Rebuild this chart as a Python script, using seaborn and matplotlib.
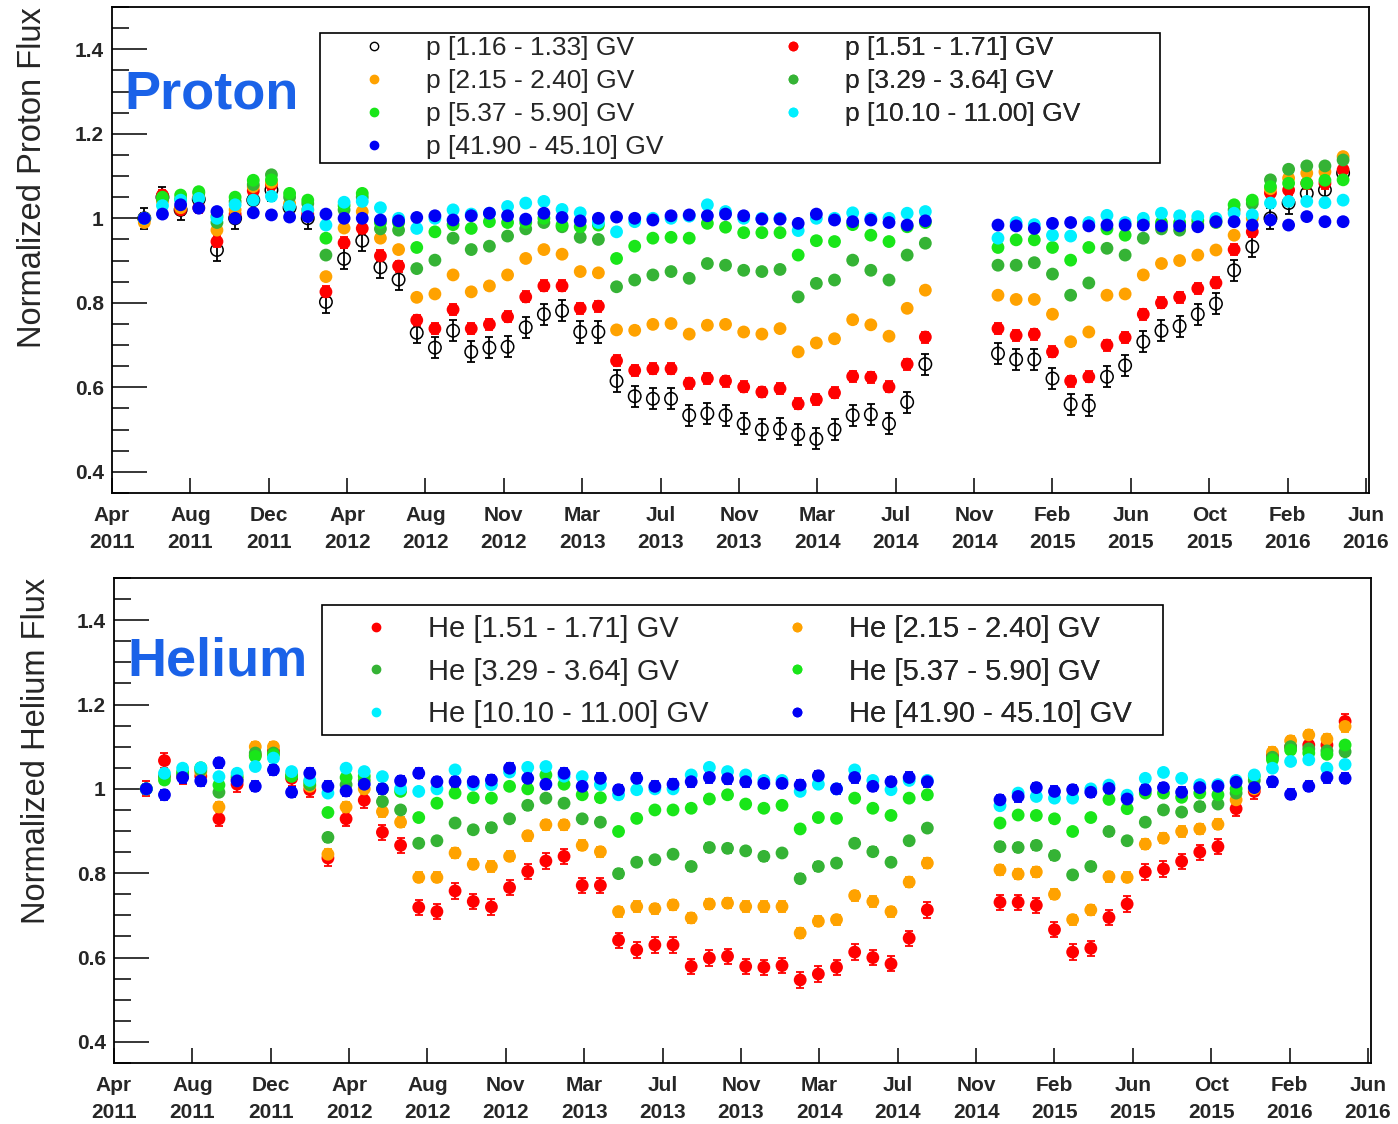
import numpy as np
import pandas as pd
import matplotlib
matplotlib.use("Agg")
import matplotlib.pyplot as plt
import matplotlib.dates as mdates
from matplotlib.lines import Line2D
from matplotlib.patches import Rectangle
from matplotlib.ticker import MultipleLocator
import seaborn as sns

# ---------------------------------------------------------------- time axis
# 27-day rotations carrying data (no data for rotations 44-46)
ROTATION = list(range(0, 44)) + list(range(47, 67))
FIRST_ROTATION = pd.Timestamp("2011-06-17")
ROTATION_DAYS = 27

AXIS_START = pd.Timestamp("2011-04-30")
AXIS_DAYS = 1868.5
TICK_STEP_DAYS = 116.5
TICK_LABELS = ["Apr\n2011", "Aug\n2011", "Dec\n2011", "Apr\n2012", "Aug\n2012",
               "Nov\n2012", "Mar\n2013", "Jul\n2013", "Nov\n2013", "Mar\n2014",
               "Jul\n2014", "Nov\n2014", "Feb\n2015", "Jun\n2015", "Oct\n2015",
               "Feb\n2016", "Jun\n2016"]
Y_MAJOR = [0.4, 0.6, 0.8, 1.0, 1.2, 1.4]

# ---------------------------------------------------------------- protons
PROTON_BANDS = ["p [1.16 - 1.33] GV", "p [1.51 - 1.71] GV", "p [2.15 - 2.40] GV",
                "p [3.29 - 3.64] GV", "p [5.37 - 5.90] GV", "p [10.10 - 11.00] GV",
                "p [41.90 - 45.10] GV"]
PROTON_COLORS = ["black", "#ff0000", "#ffa200", "#35b335", "#19e619", "#00f0ff", "#0000f5"]
PROTON_ERR = [0.025, 0.013, 0.009, 0.008, 0.007, 0.007, 0.008]

P_116 = [1.000, 1.050, 1.020, 1.045, 0.925, 1.000, 1.043, 1.067, 1.025, 1.000,
         0.802, 0.904, 0.947, 0.884, 0.855, 0.729, 0.694, 0.734, 0.684, 0.694,
         0.696, 0.742, 0.773, 0.781, 0.731, 0.731, 0.615, 0.579, 0.573, 0.573,
         0.534, 0.538, 0.534, 0.514, 0.500, 0.502, 0.489, 0.478, 0.500, 0.534,
         0.536, 0.514, 0.565, 0.655,
         0.680, 0.666, 0.666, 0.621, 0.560, 0.557, 0.625, 0.652, 0.708, 0.734,
         0.745, 0.773, 0.798, 0.877, 0.933, 1.000, 1.036, 1.059, 1.067, 1.107]
P_151 = [1.000, 1.055, 1.020, 1.025, 0.945, 1.010, 1.065, 1.080, 1.030, 1.010,
         0.826, 0.942, 0.976, 0.911, 0.887, 0.759, 0.739, 0.784, 0.739, 0.749,
         0.767, 0.814, 0.840, 0.840, 0.787, 0.792, 0.663, 0.640, 0.644, 0.644,
         0.610, 0.621, 0.615, 0.601, 0.589, 0.597, 0.561, 0.571, 0.587, 0.626,
         0.624, 0.601, 0.655, 0.719,
         0.739, 0.723, 0.726, 0.684, 0.615, 0.625, 0.700, 0.718, 0.773, 0.800,
         0.813, 0.834, 0.847, 0.926, 0.968, 1.060, 1.067, 1.083, 1.083, 1.115]
P_215 = [0.990, 1.040, 1.025, 1.050, 0.972, 1.020, 1.075, 1.085, 1.035, 1.020,
         0.862, 0.977, 1.016, 0.953, 0.926, 0.813, 0.821, 0.866, 0.826, 0.840,
         0.866, 0.905, 0.926, 0.915, 0.874, 0.871, 0.736, 0.735, 0.749, 0.751,
         0.726, 0.747, 0.749, 0.731, 0.726, 0.739, 0.684, 0.705, 0.715, 0.760,
         0.748, 0.721, 0.787, 0.830,
         0.818, 0.808, 0.808, 0.773, 0.708, 0.731, 0.818, 0.821, 0.866, 0.893,
         0.900, 0.913, 0.925, 0.960, 1.000, 1.070, 1.095, 1.107, 1.110, 1.146]
P_329 = [1.000, 1.045, 1.045, 1.060, 0.990, 1.040, 1.080, 1.103, 1.050, 1.035,
         0.913, 1.020, 1.050, 0.975, 0.972, 0.881, 0.901, 0.953, 0.926, 0.934,
         0.958, 0.975, 0.990, 0.980, 0.955, 0.950, 0.838, 0.854, 0.866, 0.874,
         0.858, 0.893, 0.889, 0.877, 0.874, 0.879, 0.814, 0.846, 0.854, 0.901,
         0.877, 0.854, 0.913, 0.941,
         0.889, 0.889, 0.895, 0.868, 0.818, 0.847, 0.929, 0.913, 0.953, 0.975,
         0.972, 0.985, 0.990, 1.020, 1.035, 1.091, 1.116, 1.124, 1.124, 1.138]
P_537 = [1.000, 1.050, 1.055, 1.063, 1.005, 1.050, 1.090, 1.091, 1.059, 1.043,
         0.953, 1.030, 1.059, 0.990, 0.990, 0.931, 0.968, 0.985, 0.976, 0.992,
         0.990, 0.990, 1.000, 0.984, 0.980, 0.984, 0.905, 0.934, 0.953, 0.955,
         0.953, 0.988, 0.979, 0.966, 0.966, 0.966, 0.913, 0.947, 0.945, 0.985,
         0.960, 0.945, 0.980, 0.990,
         0.931, 0.949, 0.949, 0.931, 0.901, 0.931, 0.975, 0.960, 0.990, 0.990,
         0.990, 0.995, 0.995, 1.032, 1.043, 1.075, 1.083, 1.083, 1.090, 1.091]
P_1010 = [1.000, 1.030, 1.043, 1.047, 1.000, 1.032, 1.043, 1.052, 1.028, 1.020,
          0.984, 1.038, 1.040, 1.025, 1.000, 0.976, 1.000, 1.020, 1.010, 1.012,
          1.028, 1.036, 1.040, 1.021, 1.013, 0.990, 0.968, 0.992, 1.000, 1.000,
          1.005, 1.032, 1.016, 1.000, 1.000, 1.000, 0.971, 1.000, 1.000, 1.013,
          1.000, 1.000, 1.012, 1.016,
          0.953, 0.990, 0.985, 0.960, 0.958, 0.990, 1.007, 0.990, 1.000, 1.012,
          1.006, 1.004, 1.000, 1.012, 1.008, 1.036, 1.040, 1.040, 1.037, 1.043]
P_4190 = [1.000, 1.010, 1.032, 1.024, 1.016, 1.000, 1.013, 1.008, 1.003, 1.004,
          1.010, 1.000, 1.000, 0.996, 0.994, 1.002, 1.006, 0.996, 1.006, 1.012,
          1.006, 0.998, 1.012, 1.002, 0.994, 1.000, 1.003, 1.000, 0.996, 1.006,
          1.008, 1.006, 1.010, 1.006, 0.998, 0.998, 0.988, 1.010, 0.996, 0.992,
          0.996, 0.990, 0.984, 0.994,
          0.984, 0.982, 0.976, 0.988, 0.990, 0.982, 0.984, 0.984, 0.984, 0.982,
          0.982, 0.980, 0.992, 0.992, 0.984, 0.996, 0.984, 1.004, 0.992, 0.992]

# ---------------------------------------------------------------- helium
HELIUM_BANDS = ["He [1.51 - 1.71] GV", "He [2.15 - 2.40] GV", "He [3.29 - 3.64] GV",
                "He [5.37 - 5.90] GV", "He [10.10 - 11.00] GV", "He [41.90 - 45.10] GV"]
HELIUM_COLORS = ["#ff0000", "#ffa200", "#35b335", "#19e619", "#00f0ff", "#0000f5"]
HELIUM_ERR = [0.018, 0.012, 0.010, 0.009, 0.009, 0.012]

HE_151 = [1.000, 1.067, 1.030, 1.030, 0.929, 1.011, 1.080, 1.090, 1.025, 0.998,
          0.836, 0.929, 0.973, 0.897, 0.866, 0.719, 0.709, 0.758, 0.733, 0.720,
          0.766, 0.804, 0.829, 0.840, 0.771, 0.771, 0.641, 0.618, 0.630, 0.630,
          0.579, 0.599, 0.603, 0.579, 0.577, 0.581, 0.547, 0.561, 0.577, 0.613,
          0.600, 0.585, 0.646, 0.713,
          0.731, 0.731, 0.724, 0.666, 0.613, 0.622, 0.695, 0.727, 0.803, 0.810,
          0.828, 0.850, 0.863, 0.953, 0.994, 1.080, 1.100, 1.104, 1.104, 1.160]
HE_215 = [1.000, 1.030, 1.030, 1.040, 0.957, 1.020, 1.100, 1.100, 1.035, 1.006,
          0.845, 0.957, 1.000, 0.946, 0.921, 0.790, 0.790, 0.848, 0.821, 0.816,
          0.840, 0.889, 0.915, 0.915, 0.866, 0.851, 0.709, 0.721, 0.716, 0.725,
          0.694, 0.727, 0.729, 0.721, 0.721, 0.721, 0.658, 0.686, 0.690, 0.747,
          0.733, 0.709, 0.779, 0.824,
          0.808, 0.798, 0.803, 0.750, 0.690, 0.713, 0.792, 0.790, 0.869, 0.883,
          0.899, 0.905, 0.916, 0.974, 1.000, 1.087, 1.114, 1.128, 1.118, 1.148]
HE_329 = [1.000, 1.030, 1.035, 1.045, 0.992, 1.025, 1.085, 1.085, 1.030, 1.010,
          0.885, 1.010, 1.020, 0.970, 0.950, 0.871, 0.877, 0.919, 0.903, 0.908,
          0.929, 0.961, 0.978, 0.966, 0.929, 0.921, 0.799, 0.826, 0.832, 0.845,
          0.816, 0.861, 0.859, 0.853, 0.840, 0.848, 0.787, 0.816, 0.824, 0.871,
          0.851, 0.826, 0.877, 0.907,
          0.863, 0.861, 0.866, 0.842, 0.796, 0.816, 0.899, 0.877, 0.921, 0.950,
          0.945, 0.958, 0.964, 0.990, 1.020, 1.075, 1.100, 1.095, 1.090, 1.088]
HE_537 = [1.000, 1.021, 1.040, 1.050, 1.009, 1.030, 1.077, 1.081, 1.030, 1.017,
          0.944, 1.027, 1.030, 1.000, 0.994, 0.932, 0.966, 0.990, 0.979, 0.978,
          1.006, 1.000, 1.033, 1.011, 0.986, 0.979, 0.899, 0.930, 0.950, 0.950,
          0.954, 0.976, 0.986, 0.964, 0.954, 0.961, 0.905, 0.932, 0.930, 0.978,
          0.954, 0.937, 0.978, 0.986,
          0.919, 0.938, 0.937, 0.929, 0.899, 0.932, 0.975, 0.953, 0.990, 0.990,
          0.980, 0.990, 0.986, 1.000, 1.030, 1.069, 1.092, 1.085, 1.082, 1.104]
HE_1010 = [1.000, 1.037, 1.049, 1.050, 1.029, 1.037, 1.053, 1.073, 1.041, 1.020,
           0.990, 1.049, 1.041, 1.029, 1.000, 0.994, 1.000, 1.045, 1.010, 1.010,
           1.040, 1.051, 1.053, 1.030, 1.029, 1.010, 0.986, 0.998, 1.000, 1.000,
           1.033, 1.051, 1.041, 1.033, 1.020, 1.020, 0.994, 1.011, 1.000, 1.045,
           1.020, 0.998, 1.020, 1.020,
           0.960, 0.990, 0.982, 0.978, 0.978, 1.000, 1.009, 0.985, 1.025, 1.039,
           1.025, 1.010, 1.010, 1.020, 1.033, 1.049, 1.065, 1.069, 1.049, 1.058]
HE_4190 = [1.000, 0.986, 1.027, 1.019, 1.062, 1.019, 1.006, 1.045, 0.992, 1.037,
           1.006, 0.995, 1.011, 1.000, 1.019, 1.037, 1.017, 1.017, 1.017, 1.021,
           1.049, 1.025, 1.011, 1.037, 1.006, 1.025, 0.998, 1.025, 1.006, 1.011,
           1.017, 1.027, 1.024, 1.017, 1.013, 1.013, 1.009, 1.031, 1.000, 1.027,
           1.006, 1.017, 1.027, 1.017,
           0.974, 0.982, 1.003, 0.994, 0.998, 0.992, 1.001, 0.976, 0.998, 1.003,
           0.992, 1.003, 1.006, 1.016, 1.003, 1.017, 0.987, 1.006, 1.027, 1.025]

PROTON_SERIES = [P_116, P_151, P_215, P_329, P_537, P_1010, P_4190]
HELIUM_SERIES = [HE_151, HE_215, HE_329, HE_537, HE_1010, HE_4190]

W, H = 1398, 1124
TITLE_BLUE = "#1a62e8"

sns.set_theme(style="ticks")
plt.rcParams["font.family"] = ["Liberation Sans", "DejaVu Sans"]

dates = FIRST_ROTATION + pd.to_timedelta(np.array(ROTATION) * ROTATION_DAYS, unit="D")


def long_frame(bands, series, errs):
    parts = [pd.DataFrame({"date": dates, "flux": vals, "err": err, "band": band})
             for band, vals, err in zip(bands, series, errs)]
    return pd.concat(parts, ignore_index=True)


def px_fig(x, y):
    return x / W, 1 - y / H


def draw_panel(ax, df, bands, colors, hollow=None):
    for band, color in zip(bands, colors):
        sub = df[df["band"] == band]
        ax.errorbar(sub["date"], sub["flux"], yerr=sub["err"], fmt="none",
                    ecolor=color, elinewidth=1.3, capsize=3, capthick=1.3, zorder=2)
    if hollow is not None:
        sns.scatterplot(data=df[df["band"] == hollow], x="date", y="flux", ax=ax,
                        s=80, facecolors="none", edgecolor="black", linewidth=1.1,
                        legend=False, zorder=3)
    filled_bands = [b for b in bands if b != hollow]
    filled_colors = [c for b, c in zip(bands, colors) if b != hollow]
    sns.scatterplot(data=df[df["band"].isin(filled_bands)], x="date", y="flux",
                    hue="band", hue_order=filled_bands, palette=filled_colors,
                    s=85, linewidth=0, legend=False, ax=ax, zorder=3)


def style_axis(ax, ylabel, label_x):
    ax.set_xlim(AXIS_START, AXIS_START + pd.Timedelta(days=AXIS_DAYS))
    ax.set_ylim(0.35, 1.5)
    tick_pos = [AXIS_START + pd.Timedelta(days=TICK_STEP_DAYS * k)
                for k in range(len(TICK_LABELS))]
    ax.set_xticks(mdates.date2num(tick_pos))
    ax.set_xticklabels(TICK_LABELS, fontsize=15, fontweight="bold", linespacing=1.5)
    ax.set_yticks(Y_MAJOR)
    ax.set_yticklabels([f"{v:g}" for v in Y_MAJOR], fontsize=15, fontweight="bold")
    ax.yaxis.set_minor_locator(MultipleLocator(0.05))
    ax.tick_params(axis="y", which="major", direction="in", length=25, width=1.3,
                   pad=6, right=False)
    ax.tick_params(axis="y", which="minor", direction="in", length=12.5, width=1.3,
                   right=False)
    ax.tick_params(axis="x", which="major", direction="in", length=11, width=1.3,
                   pad=9.5, top=False)
    ax.set_xlabel("")
    ax.set_ylabel(ylabel, fontsize=23.5, loc="top")
    ax.yaxis.set_label_coords(label_x, 1.0)
    for sp in ax.spines.values():
        sp.set_visible(True)
        sp.set_color("black")
        sp.set_linewidth(1.3)
    ax.grid(False)


def legend_column(ax, labels, colors, hollow_flags, anchor_px, fontsize, spacing, textpad):
    handles = [Line2D([], [], ls="none", marker="o", ms=6,
                      mfc="none" if hol else col, mec=col, mew=1.0)
               for col, hol in zip(colors, hollow_flags)]
    leg = ax.legend(handles, labels, loc="upper left",
                    bbox_to_anchor=px_fig(*anchor_px), bbox_transform=ax.figure.transFigure,
                    frameon=False, fontsize=fontsize, borderpad=0, borderaxespad=0,
                    handlelength=2.0, handletextpad=textpad, labelspacing=spacing)
    ax.add_artist(leg)


def legend_box(ax, x0, y0, x1, y1):
    fx0, fy1 = px_fig(x0, y1)
    ax.add_patch(Rectangle((fx0, fy1), (x1 - x0) / W, (y1 - y0) / H,
                           transform=ax.figure.transFigure, facecolor="white",
                           edgecolor="black", linewidth=1.2, zorder=4, clip_on=False))


fig = plt.figure(figsize=(W / 100, H / 100), dpi=100)
ax_p = fig.add_axes([112 / W, 1 - 493 / H, 1257 / W, 486 / H])
ax_h = fig.add_axes([114 / W, 1 - 1063 / H, 1257 / W, 485 / H])

# proton panel
proton_df = long_frame(PROTON_BANDS, PROTON_SERIES, PROTON_ERR)
draw_panel(ax_p, proton_df, PROTON_BANDS, PROTON_COLORS, hollow=PROTON_BANDS[0])
style_axis(ax_p, "Normalized Proton Flux", -0.0509)
ax_p.text(0.0095, 0.792, "Proton", transform=ax_p.transAxes, color=TITLE_BLUE,
          fontsize=39, fontweight="bold", ha="left", va="baseline", zorder=6)
legend_box(ax_p, 320, 33, 1160, 163)
legend_column(ax_p, PROTON_BANDS[0::2], PROTON_COLORS[0::2], [True, False, False, False],
              (348, 36), 19, 0.34, 0.95)
legend_column(ax_p, PROTON_BANDS[1::2], PROTON_COLORS[1::2], [False, False, False],
              (767, 36), 19, 0.34, 0.95)

# helium panel
helium_df = long_frame(HELIUM_BANDS, HELIUM_SERIES, HELIUM_ERR)
draw_panel(ax_h, helium_df, HELIUM_BANDS, HELIUM_COLORS)
style_axis(ax_h, "Normalized Helium Flux", -0.0493)
ax_h.text(0.011, 0.798, "Helium", transform=ax_h.transAxes, color=TITLE_BLUE,
          fontsize=39, fontweight="bold", ha="left", va="baseline", zorder=6)
legend_box(ax_h, 322, 605, 1163, 735)
legend_column(ax_h, HELIUM_BANDS[0::2], HELIUM_COLORS[0::2], [False] * 3,
              (347, 615), 21, 0.5, 0.78)
legend_column(ax_h, HELIUM_BANDS[1::2], HELIUM_COLORS[1::2], [False] * 3,
              (768, 615), 21, 0.5, 0.78)

fig.savefig("out.png", dpi=100)
